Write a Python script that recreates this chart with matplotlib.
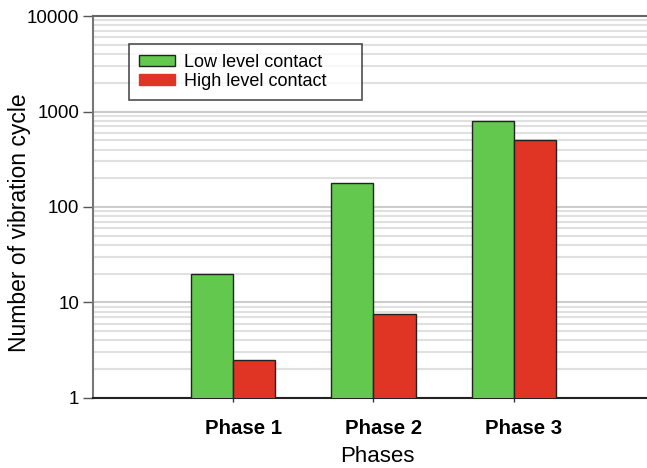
import numpy as np
import matplotlib.pyplot as plt
import matplotlib.transforms as mtransforms
from matplotlib.patches import Patch

phases = ['Phase 1', 'Phase 2', 'Phase 3']
low_level = [20, 180, 800]
high_level = [2.5, 7.5, 500]

plt.rcParams['font.family'] = ['Liberation Sans', 'DejaVu Sans']

fig = plt.figure(figsize=(6.47, 4.68), dpi=100)
ax = fig.add_axes([0.1437, 0.1496, 0.8563, 0.8162])

x = np.arange(len(phases))
w = 0.3
green = '#62c84e'
red = '#e03425'
ax.bar(x - w / 2, low_level, w, color=green, edgecolor='#222222', linewidth=1, zorder=3)
ax.bar(x + w / 2, high_level, w, color=red, edgecolor='#222222', linewidth=1, zorder=3)

ax.set_yscale('log')
ax.set_ylim(1, 10000)
ax.set_xlim(-1, 2.95)
ax.set_yticks([1, 10, 100, 1000, 10000])
ax.set_yticklabels(['1', '10', '100', '1000', '10000'])
ax.tick_params(axis='y', which='minor', length=0)
ax.tick_params(axis='y', which='major', length=7, width=1, color='#555555',
               labelsize=13.5, pad=3)
ax.set_xticks(x)
ax.set_xticklabels(phases, fontweight='bold', fontsize=14.7)
ax.tick_params(axis='x', length=6, width=1, color='#333333', direction='inout', pad=12)
# labels sit a bit right of their ticks in the reference
shift = mtransforms.ScaledTranslation(10 / 100, 0, fig.dpi_scale_trans)
for lab in ax.get_xticklabels():
    lab.set_transform(lab.get_transform() + shift)

ax.grid(True, axis='y', which='major', color='#cccccc', linewidth=1.5, zorder=0)
ax.grid(True, axis='y', which='minor', color='#e0e0e0', linewidth=1.5, zorder=0)

ax.spines['right'].set_visible(False)
ax.spines['top'].set_color('#666666')
ax.spines['top'].set_linewidth(1.5)
ax.spines['left'].set_color('#777777')
ax.spines['left'].set_linewidth(1.5)
ax.spines['bottom'].set_color('#222222')
ax.spines['bottom'].set_linewidth(1.5)

ax.set_xlabel('Phases', fontsize=16)
ax.xaxis.set_label_coords(0.514, -0.125)
ax.set_ylabel('Number of vibration cycle', fontsize=16.5)
ax.yaxis.set_label_coords(-0.112, 0.46)

handles = [Patch(facecolor=green, edgecolor='#222222', linewidth=1),
           Patch(facecolor=red, edgecolor=red)]
leg = ax.legend(handles, ['Low level contact', 'High level contact'],
                loc='upper left', bbox_to_anchor=(0.065, 0.927, 0.42, 0.0),
                mode='expand', borderaxespad=0, fontsize=13,
                frameon=True, fancybox=False, handlelength=2.0, handleheight=0.55,
                labelspacing=0.1, borderpad=0.55, handletextpad=0.5)
leg.get_frame().set_edgecolor('#222222')
leg.get_frame().set_linewidth(1.2)

fig.savefig('out.png', dpi=100)
